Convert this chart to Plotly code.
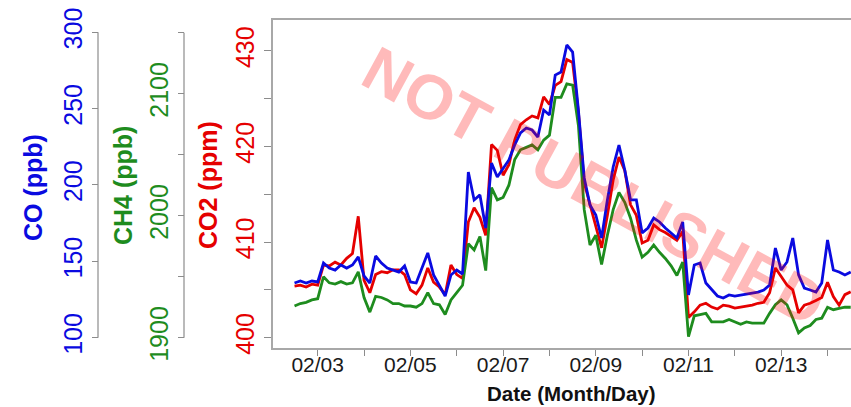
import pandas as pd
import plotly.graph_objects as go

# 3-hourly samples, 2 Feb 12:00 to 14 Feb 12:00
times = pd.date_range("2019-02-02 12:00", periods=97, freq="3h")

co_ppb = [
    135.8, 137.1, 135.8, 137.1, 136.5, 148.9, 145.6, 144.3, 147.6, 145.6,
    147.6, 152.9, 140.4, 135.8, 153.5, 148.9, 145.6, 144.3, 143.0, 147.0,
    136.5, 135.8, 145.6, 155.5, 141.1, 134.5, 127.3, 141.1, 144.3, 141.7,
    208.5, 190.2, 193.5, 171.8, 214.4, 205.2, 211.1, 216.4, 226.2, 234.1,
    237.3, 236.0, 231.4, 249.1, 245.8, 272.0, 274.0, 291.7, 287.1, 249.1,
    204.6, 186.9, 180.4, 165.3, 190.2, 211.8, 226.2, 209.8, 190.2, 190.2,
    168.6, 171.8, 178.4, 175.8, 171.8, 168.6, 165.3, 175.8, 128.0, 147.6,
    148.9, 135.8, 131.2, 127.3, 126.0, 128.0, 127.3, 128.0, 128.6, 129.3,
    129.9, 131.2, 134.5, 158.7, 144.3, 149.6, 165.3, 141.1, 132.5, 131.2,
    129.9, 135.8, 164.0, 144.3, 143.0, 141.1, 143.0,
]

ch4_ppb = [
    1926, 1928, 1929, 1931, 1932, 1950, 1945, 1944, 1946, 1944,
    1945, 1954, 1933, 1921, 1934, 1933, 1931, 1928, 1928, 1926,
    1926, 1925, 1928, 1937, 1928, 1927, 1919, 1931, 1937, 1943,
    1977, 1972, 1983, 1955, 2023, 2013, 2015, 2025, 2046, 2054,
    2056, 2058, 2054, 2062, 2066, 2097, 2097, 2108, 2107, 2074,
    2005, 1976, 1984, 1960, 1984, 2005, 2019, 2011, 1998, 1980,
    1966, 1970, 1976, 1970, 1965, 1959, 1951, 1962, 1901, 1918,
    1919, 1920, 1913, 1913, 1913, 1915, 1913, 1911, 1913, 1912,
    1912, 1912, 1920, 1927, 1931, 1927, 1916, 1904, 1908, 1910,
    1915, 1916, 1925, 1923, 1924, 1925, 1925,
]

co2_ppm = [
    405.4, 405.5, 405.3, 405.6, 405.5, 407.6, 407.5, 407.9, 407.6, 408.3,
    408.8, 412.7, 406.0, 404.7, 406.6, 406.9, 406.8, 407.1, 407.1, 406.6,
    405.0, 404.6, 405.5, 407.3, 405.8, 405.3, 404.5, 407.6, 406.6, 406.2,
    412.1, 413.6, 412.6, 410.7, 420.2, 419.6, 417.0, 418.1, 420.7, 422.3,
    422.8, 423.2, 423.0, 425.2, 424.4, 426.4, 426.8, 429.1, 428.8, 423.6,
    416.2, 413.9, 411.8, 409.4, 412.8, 416.5, 418.9, 417.5, 413.9, 412.8,
    409.9, 410.2, 411.8, 411.3, 411.0, 410.6, 410.2, 411.1, 402.1, 402.7,
    403.4, 403.6, 403.2, 403.0, 403.4, 403.3, 403.1, 403.2, 403.3, 403.4,
    403.6, 403.7, 404.7, 407.3, 406.4, 405.5, 405.0, 402.6, 403.4, 403.6,
    403.9, 404.2, 405.8, 404.3, 403.4, 404.5, 404.8,
]

day_ticks = pd.date_range("2019-02-03", "2019-02-14", freq="D")
day_labels = [d.strftime("%m/%d") if i % 2 == 0 else "" for i, d in enumerate(day_ticks)]

co2_ticks = [400, 405, 410, 415, 420, 425, 430]
co2_labels = ["400", "", "410", "", "420", "", "430"]
ch4_ticks = [1900, 1950, 2000, 2050, 2100, 2150]
ch4_labels = ["1900", "", "2000", "", "2100", ""]
co_ticks = [100, 150, 200, 250, 300]
co_labels = ["100", "150", "200", "250", "300"]

BLUE = "#0a0ae0"
RED = "#e50000"
GREEN = "#1e8c1e"
AXIS_GREY = "#8c8c8c"
FONT = "Liberation Sans, Arial, sans-serif"

W, H = 851, 407
TOP, BOTTOM = 20, 348          # plot-area edges in pixels


def px_x(x):
    return x / W


def px_y(y):
    return (BOTTOM - y) / (BOTTOM - TOP)


fig = go.Figure()
fig.add_trace(go.Scatter(x=times, y=co2_ppm, yaxis="y", mode="lines",
                         line=dict(color=RED, width=2.8), name="CO2"))
fig.add_trace(go.Scatter(x=times, y=ch4_ppb, yaxis="y2", mode="lines",
                         line=dict(color=GREEN, width=2.8), name="CH4"))
fig.add_trace(go.Scatter(x=times, y=co_ppb, yaxis="y3", mode="lines",
                         line=dict(color=BLUE, width=2.8), name="CO"))

CH4_POS = px_x(184)
CO_POS = px_x(98)

fig.update_layout(
    width=W, height=H,
    margin=dict(l=0, r=0, t=TOP, b=H - BOTTOM),
    paper_bgcolor="white", plot_bgcolor="white",
    showlegend=False,
    font=dict(family=FONT),
    xaxis=dict(
        domain=[px_x(273), 1.0],
        type="date",
        range=["2019-02-02 00:51", "2019-02-14 12:09"],
        tickmode="array", tickvals=day_ticks, ticktext=day_labels,
        ticks="outside", ticklen=6, tickcolor=AXIS_GREY,
        tickfont=dict(size=21, color="#1a1a1a"),
        ticklabelstandoff=-9,
        showline=True, linecolor="#a8a8a8", linewidth=1.5, mirror=True,
        showgrid=False, zeroline=False,
    ),
    yaxis=dict(
        anchor="x",
        range=[398.92, 433.24],
        tickmode="array", tickvals=co2_ticks, ticktext=co2_labels,
        tickangle=-90, tickfont=dict(size=25, color=RED),
        ticks="outside", ticklen=7, tickcolor=AXIS_GREY,
        showline=True, linecolor="#a8a8a8", linewidth=1.5,
        showgrid=False, zeroline=False,
    ),
    yaxis2=dict(
        overlaying="y", anchor="free", position=CH4_POS, side="left",
        range=[1891.6, 2160.4],
        tickmode="array", tickvals=ch4_ticks, ticktext=ch4_labels,
        tickangle=-90, tickfont=dict(size=25, color=GREEN),
        ticks="outside", ticklen=6, tickcolor=AXIS_GREY,
        showline=False, showgrid=False, zeroline=False,
    ),
    yaxis3=dict(
        overlaying="y", anchor="free", position=CO_POS, side="left",
        range=[93.25, 308.05],
        tickmode="array", tickvals=co_ticks, ticktext=co_labels,
        tickangle=-90, tickfont=dict(size=25, color=BLUE),
        ticks="outside", ticklen=6, tickcolor=AXIS_GREY,
        showline=False, showgrid=False, zeroline=False,
    ),
)

# Axis spines for the two offset axes, spanning only their tick range
fig.add_shape(type="line", xref="paper", yref="y2",
              x0=CH4_POS, x1=CH4_POS, y0=ch4_ticks[0], y1=ch4_ticks[-1],
              line=dict(color=AXIS_GREY, width=1.2))
fig.add_shape(type="line", xref="paper", yref="y3",
              x0=CO_POS, x1=CO_POS, y0=co_ticks[0], y1=co_ticks[-1],
              line=dict(color=AXIS_GREY, width=1.2))

titles = [
    ("<b>CO (ppb)</b>", 33, 188, BLUE, 25, -90),
    ("<b>CH4 (ppb)</b>", 123, 186, GREEN, 25, -90),
    ("<b>CO2 (ppm)</b>", 208, 185, RED, 25, -90),
    ("<b>Date (Month/Day)</b>", 571, 394, "#111111", 20.5, 0),
]
for text, x, y, color, size, angle in titles:
    fig.add_annotation(text=text, xref="paper", yref="paper",
                       x=px_x(x), y=px_y(y), xanchor="center", yanchor="middle",
                       textangle=angle, showarrow=False,
                       font=dict(size=size, color=color, family=FONT))

# Draft watermark
fig.add_annotation(text="<b>NOT PUBLISHED</b>", xref="paper", yref="paper",
                   x=px_x(594), y=px_y(186), xanchor="center", yanchor="middle",
                   textangle=28.5, showarrow=False,
                   font=dict(size=63, color="rgba(255,0,0,0.27)", family=FONT))

fig.write_html("out.html")
